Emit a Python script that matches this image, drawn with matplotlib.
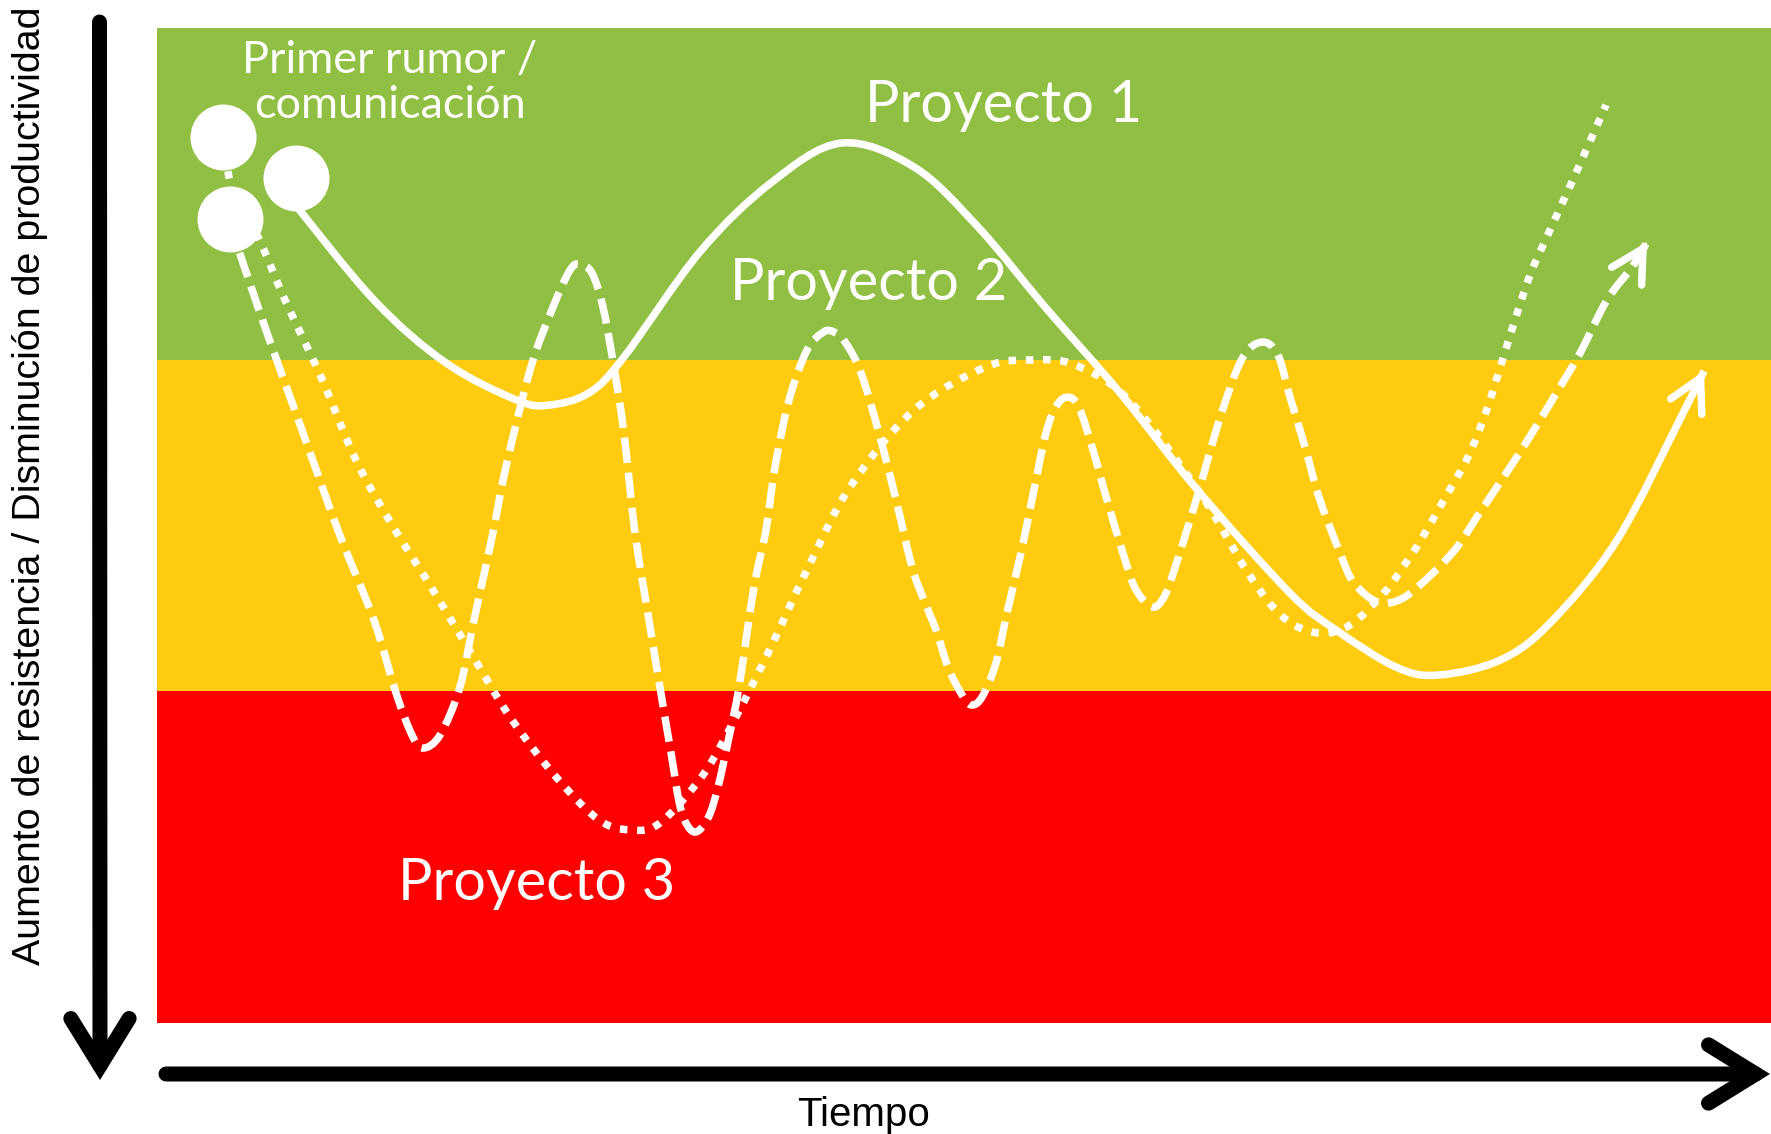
import matplotlib
matplotlib.use('Agg')
import matplotlib.pyplot as plt
import numpy as np
from matplotlib.patches import FancyArrowPatch, PathPatch
from matplotlib.path import Path


# Resistance zones (0 = top of the chart, 3 = bottom)
ZONE_LIMITS = [0, 1, 2, 3]
ZONE_COLORS = ['#91BF43', '#FECB0E', '#FF0000']

# Starting point of each project (first rumour / communication)
START_T = [8.61, 4.50, 4.06]
START_R = [0.452, 0.576, 0.329]

# Proyecto 1 (solid line): tiempo 0-100, resistencia 0-3
P1_T = [8.24, 13.44, 17.91, 22.30, 24.29, 26.77, 28.93, 33.64, 38.04, 42.38,
        46.90, 50.87, 55.02, 59.67, 64.31, 70.20, 73.05, 76.77, 79.37, 83.21,
        86.31, 90.46, 94.55, 95.85]
P1_R = [0.513, 0.820, 1.010, 1.122, 1.137, 1.100, 0.992, 0.675, 0.467, 0.347,
        0.419, 0.600, 0.841, 1.100, 1.384, 1.704, 1.815, 1.927, 1.951, 1.906,
        1.794, 1.544, 1.161, 1.034]

# Proyecto 2 (dashed line)
P2_T = [4.50, 5.06, 6.82, 9.05, 11.28, 13.44, 14.81, 15.80, 16.48, 17.53,
        18.77, 19.64, 20.76, 21.62, 23.17, 24.54, 25.59, 26.21, 26.95, 27.63,
        28.31, 28.93, 29.62, 30.48, 31.16, 31.85, 32.47, 33.27, 34.14, 34.76,
        35.44, 36.06, 36.99, 37.73, 38.29, 39.16, 40.27, 41.20, 41.82, 42.63,
        43.62, 44.73, 45.79, 46.78, 47.52, 48.27, 49.01, 49.81, 50.43, 51.12,
        51.98, 52.66, 53.53, 54.21, 55.08, 55.76, 56.44, 57.12, 57.99, 58.86,
        59.98, 60.66, 61.65, 62.39, 63.07, 64.44, 65.86, 67.22, 68.46, 69.45,
        70.20, 71.13, 71.99, 73.30, 74.16, 75.65, 77.20, 79.06, 80.55, 81.78,
        83.02, 84.26, 85.69, 86.93, 88.17, 89.84, 91.39, 92.32]
P2_R = [0.576, 0.669, 0.920, 1.221, 1.523, 1.785, 2.005, 2.132, 2.171, 2.132,
        1.987, 1.785, 1.535, 1.324, 1.022, 0.841, 0.730, 0.712, 0.739, 0.841,
        1.022, 1.221, 1.523, 1.785, 1.987, 2.186, 2.358, 2.424, 2.382, 2.288,
        2.138, 1.987, 1.685, 1.514, 1.324, 1.122, 0.971, 0.920, 0.914, 0.947,
        1.040, 1.221, 1.423, 1.625, 1.725, 1.815, 1.927, 2.005, 2.041, 2.017,
        1.915, 1.764, 1.583, 1.423, 1.221, 1.137, 1.113, 1.143, 1.272, 1.423,
        1.604, 1.694, 1.746, 1.716, 1.628, 1.414, 1.176, 0.998, 0.947, 0.986,
        1.113, 1.263, 1.414, 1.583, 1.673, 1.731, 1.719, 1.643, 1.565, 1.474,
        1.384, 1.293, 1.182, 1.082, 0.980, 0.820, 0.721, 0.645]

# Proyecto 3 (dotted line)
P3_T = [4.06, 4.50, 5.14, 6.26, 7.93, 10.16, 12.33, 14.56, 16.98, 19.45,
        21.87, 24.72, 27.39, 29.37, 31.16, 33.83, 35.87, 38.04, 40.27, 42.94,
        46.90, 51.36, 54.21, 56.88, 60.22, 64.62, 67.60, 69.76, 71.93, 73.92,
        76.08, 77.20, 78.31, 79.80, 81.23, 82.34, 83.27, 84.14, 85.07, 86.25,
        87.92, 89.78]
P3_R = [0.329, 0.458, 0.549, 0.630, 0.820, 1.052, 1.303, 1.498, 1.685, 1.884,
        2.077, 2.258, 2.388, 2.418, 2.397, 2.252, 2.077, 1.866, 1.634, 1.384,
        1.152, 1.022, 1.001, 1.016, 1.122, 1.402, 1.643, 1.776, 1.824, 1.800,
        1.700, 1.625, 1.544, 1.417, 1.293, 1.158, 1.016, 0.880, 0.745, 0.615,
        0.437, 0.232]

PROJECT_LABELS = ['Proyecto 1', 'Proyecto 2', 'Proyecto 3']
START_LABEL = ['Primer rumor /', 'comunicación']
X_LABEL = 'Tiempo'
Y_LABEL = 'Aumento de resistencia / Disminución de productividad'

LABEL_FONT = 'Lato'
AXIS_FONT = 'Liberation Sans'
LINE_W = 5.4


def smooth_path(xs, ys):
  """Catmull-Rom spline through the anchor points, as cubic Bezier segments."""
  pts = np.column_stack([xs, ys]).astype(float)
  ext = np.vstack([pts[0], pts, pts[-1]])
  verts = [pts[0]]
  codes = [Path.MOVETO]
  for i in range(1, len(ext) - 2):
    p0, p1, p2, p3 = ext[i - 1], ext[i], ext[i + 1], ext[i + 2]
    verts += [p1 + (p2 - p0) / 6.0, p2 - (p3 - p1) / 6.0, p2]
    codes += [Path.CURVE4] * 3
  return Path(verts, codes)


def draw_curve(ax, xs, ys, dashes, arrow=True):
  patch = PathPatch(smooth_path(xs, ys), fill=False, edgecolor='white',
                    lw=LINE_W, capstyle='butt', joinstyle='round', zorder=3)
  if dashes is not None:
    patch.set_linestyle((0, dashes))
  ax.add_patch(patch)
  if arrow:
    tip = (xs[-1], ys[-1])
    base = (xs[-1] + (xs[-2] - xs[-1]) * 0.2, ys[-1] + (ys[-2] - ys[-1]) * 0.2)
    ax.add_patch(FancyArrowPatch(
        base, tip, arrowstyle='->,head_length=2.3,head_width=1.25',
        mutation_scale=10, lw=LINE_W, color='white', capstyle='round',
        joinstyle='miter', shrinkA=0, shrinkB=0, zorder=4))


def axis_arrow(fig, start, end):
  fig.add_artist(FancyArrowPatch(
      start, end, transform=fig.transFigure,
      arrowstyle='->,head_length=3.4,head_width=2.1', mutation_scale=10,
      lw=10.8, color='black', capstyle='round', joinstyle='miter',
      shrinkA=0, shrinkB=0))


def main() -> None:
  W, H = 1771, 1134
  fig = plt.figure(figsize=(W / 100, H / 100), dpi=100, facecolor='white')
  ax = fig.add_axes([157 / W, 1 - 1023 / H, (W - 157) / W, (1023 - 28) / H])
  ax.set_xlim(0, 100)
  ax.set_ylim(ZONE_LIMITS[-1], ZONE_LIMITS[0])
  ax.axis('off')

  for lo, hi, color in zip(ZONE_LIMITS[:-1], ZONE_LIMITS[1:], ZONE_COLORS):
    ax.axhspan(lo, hi, color=color, lw=0, zorder=1)

  draw_curve(ax, P1_T, P1_R, None)
  draw_curve(ax, P2_T, P2_R, (3.4, 1.3))
  draw_curve(ax, P3_T, P3_R, (1.0, 1.3), arrow=False)

  ax.scatter(START_T, START_R, s=(66 * 0.72) ** 2, color='white',
             linewidths=0, zorder=5)

  label_pos = [(52.48, 0.283), (44.11, 0.820), (23.54, 2.629)]
  for text, (x, y) in zip(PROJECT_LABELS, label_pos):
    ax.text(x, y, text, ha='center', va='baseline', color='white',
            fontsize=41.5, family=LABEL_FONT, zorder=6)
  for text, y in zip(START_LABEL, [0.136, 0.271]):
    ax.text(14.44, y, text, ha='center', va='baseline', color='white',
            fontsize=32.5, family=LABEL_FONT, zorder=6)

  axis_arrow(fig, (99.5 / W, 1 - 22 / H), (100 / W, 1 - 1080 / H))
  axis_arrow(fig, (166 / W, 1 - 1074 / H), (1770 / W, 1 - 1074 / H))

  fig.text(864 / W, 1 - 1126 / H, X_LABEL, ha='center', va='baseline',
           fontsize=29, family=AXIS_FONT, color='black')
  fig.text(30 / W, 1 - 486 / H, Y_LABEL, ha='center', va='center',
           rotation=90, fontsize=28.4, family=AXIS_FONT, color='black')

  fig.savefig('out.png', dpi=100, facecolor='white')


if __name__ == '__main__':
  main()
